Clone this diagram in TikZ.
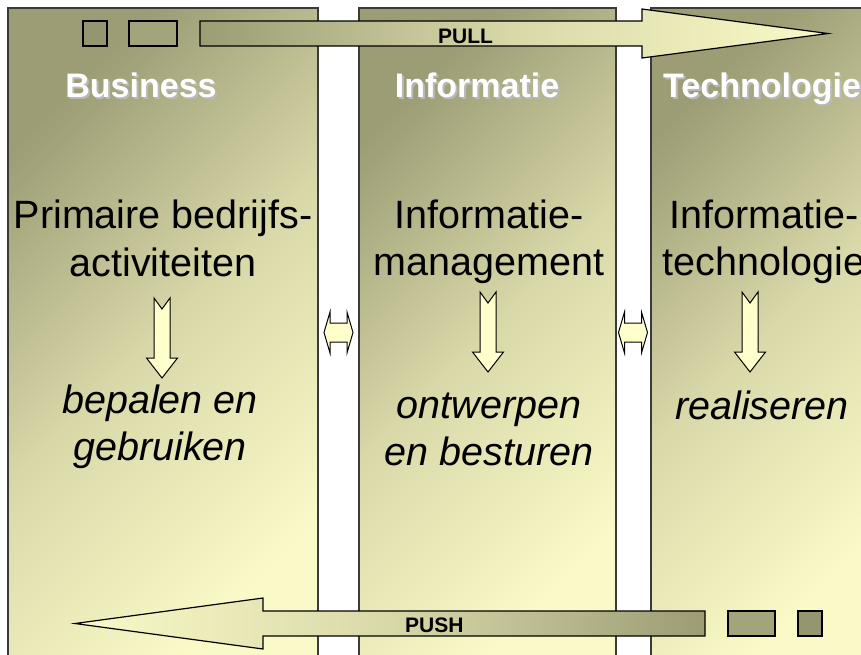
\documentclass[tikz,border=0pt]{standalone}
\usepackage{fontspec}
\setmainfont{Liberation Sans}
\definecolor{olivedark}{HTML}{9C9C75}
\definecolor{olivemid}{HTML}{D8D8A9}
\definecolor{olivelight}{HTML}{FAFAC8}
\definecolor{arrowfill}{HTML}{FFFFCC}
\definecolor{edge}{HTML}{3A3A3A}
\definecolor{sqdark}{HTML}{959570}
\definecolor{sqmid}{HTML}{A4A47C}
\begin{document}
\begin{tikzpicture}[x=1pt,y=-1pt,
  panel/.style={draw=edge,line width=1.2pt,top color=olivedark,bottom color=olivelight,middle color=olivemid,shading angle=45},
  arrowstyle/.style={draw=black,line width=1pt,fill=arrowfill,line join=miter},
  bigarrow/.style={draw=black,line width=1.2pt,line join=miter},
  sqbox/.style={draw=black,line width=1.2pt},
  hdr/.style={font=\bfseries\fontsize{34}{40}\selectfont,inner sep=0pt},
  main/.style={font=\fontsize{39.5}{46}\selectfont,inner sep=0pt,anchor=base},
  emph/.style={font=\itshape\fontsize{39.5}{46}\selectfont,inner sep=0pt,anchor=base},
  lbl/.style={font=\bfseries\fontsize{21}{24}\selectfont,inner sep=0pt,anchor=base west},
  downarr/.pic={\draw[arrowstyle] (-8,0) -- (0,11) -- (8,0) -- (8,60) -- (15.5,60) -- (0,80) -- (-15.5,60) -- (-8,60) -- cycle;},
  dblarr/.pic={\draw[arrowstyle] (-14.5,0) -- (-8.5,-20.5) -- (-8.5,-9.5) -- (8.5,-9.5) -- (8.5,-20.5) -- (14.5,0) -- (8.5,20.5) -- (8.5,9.5) -- (-8.5,9.5) -- (-8.5,20.5) -- cycle;}
]
\useasboundingbox (0,0) rectangle (861,654);
\begin{scope}
\clip (0,0) rectangle (861,654);
% panels
\path[panel] (8,8) rectangle (318,662);
\path[panel] (359,8) rectangle (616,662);
\path[panel] (651,8) rectangle (875,662);

% headers with shadow
\node[hdr,text=gray!55,anchor=base] at (143,99) {Business};
\node[hdr,text=white,anchor=base] (hbus) at (141,97) {Business};
\node[hdr,text=gray!55,anchor=base] at (479,99) {Informatie};
\node[hdr,text=white,anchor=base] (hinf) at (477,97) {Informatie};
\node[hdr,text=gray!55,anchor=base west] at (665,99) {Technologie};
\node[hdr,text=white,anchor=base west] (htec) at (663,97) {Technologie};

% PULL arrow
\path[bigarrow,left color=olivedark,right color=olivelight,middle color=olivemid]
  (200,21) -- (642,21) -- (642,9) -- (828,33.5) -- (642,58) -- (642,46) -- (200,46) -- cycle;
\draw[sqbox,fill=sqdark] (83,21) rectangle (107,46);
\draw[sqbox,fill=sqmid] (129,21) rectangle (177,46);
\node[lbl] (pull) at (438,43) {PULL};

% PUSH arrow
\path[bigarrow,left color=olivelight,right color=olivedark,middle color=olivemid]
  (705,611) -- (263,611) -- (263,598) -- (75,623.5) -- (263,649) -- (263,636) -- (705,636) -- cycle;
\draw[sqbox,fill=sqmid] (728,611) rectangle (775,636);
\draw[sqbox,fill=sqdark] (798,611) rectangle (822,636);
\node[lbl] (push) at (405,632) {PUSH};

% column texts
\node[main] (b1) at (163,228) {Primaire bedrijfs-};
\node[main] (b2) at (163,276) {activiteiten};
\node[main] (i1) at (489,228) {Informatie-};
\node[main] (i2) at (489,275) {management};
\node[main] (t1) at (764,228) {Informatie-};
\node[main] (t2) at (764,275) {technologie};

\node[emph] (b3) at (160,413) {bepalen en};
\node[emph] (b4) at (160,460) {gebruiken};
\node[emph] (i3) at (489,418) {ontwerpen};
\node[emph] (i4) at (489,465) {en besturen};
\node[emph] (t3) at (762,419) {realiseren};

% down arrows
\pic at (162,298) {downarr};
\pic at (488,292) {downarr};
\pic at (750,292) {downarr};

% double arrows
\pic at (338.5,332.5) {dblarr};
\pic at (633,332.5) {dblarr};
\end{scope}
\end{tikzpicture}
\end{document}
